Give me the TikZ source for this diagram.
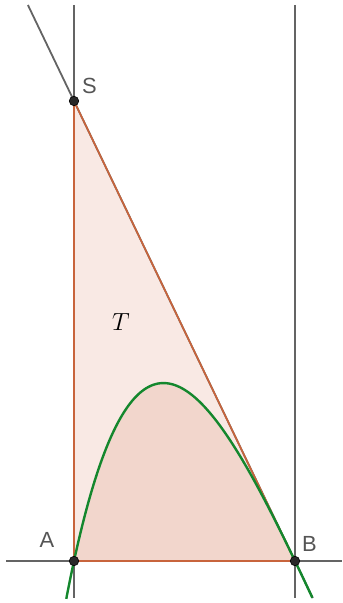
\documentclass[tikz,border=0pt]{standalone}
\usepackage{fontspec}
\newfontfamily\lblfont{Liberation Sans}
\definecolor{gline}{RGB}{100,100,100}
\definecolor{oline}{RGB}{200,100,60}
\definecolor{tfill}{RGB}{249,233,228}
\definecolor{cfill}{RGB}{242,214,204}
\definecolor{gcurve}{RGB}{20,135,45}
\definecolor{ptcol}{RGB}{40,40,40}
\definecolor{lblcol}{RGB}{85,85,85}
\tikzset{
  axisline/.style={draw=gline, line width=1.8bp},
  edgeline/.style={draw=oline, line width=1.7bp},
  curveline/.style={draw=gcurve, line width=2.4bp},
  ptdot/.style={circle, fill=ptcol, draw=black, line width=0.6bp, inner sep=0pt, minimum size=9.5bp},
  lbl/.style={text=lblcol, font=\lblfont\fontsize{22}{22}\selectfont, inner sep=0pt},
}
\begin{document}
\begin{tikzpicture}[x=1bp,y=-1bp]
\useasboundingbox (0,0) rectangle (342,603);
% coordinates
\coordinate (Sp) at (74,101);
\coordinate (Ap) at (74,561);
\coordinate (Bp) at (295,561);
\coordinate (vAtop) at (74,5);
\coordinate (vAbot) at (74,598);
\coordinate (vBtop) at (295,5);
\coordinate (vBbot) at (295,598);
\coordinate (hL) at (6,561);
\coordinate (hR) at (342,561);
\coordinate (tTop) at (27.9,5);
\coordinate (tBot) at (312.8,598);
% fills
\fill[tfill] (Sp) -- (Ap) -- (Bp) -- cycle;
\fill[cfill] plot[domain=0:1, samples=120] ({74+221*\x},{561-221*4.6*\x*(1-\x)*exp(-0.79*\x)}) -- cycle;
% gray lines
\draw[axisline] (vAtop) -- (vAbot);
\draw[axisline] (vBtop) -- (vBbot);
\draw[axisline] (hL) -- (hR);
\draw[axisline] (tTop) -- (tBot);
% triangle edges
\draw[edgeline] (Sp) -- (Ap);
\draw[edgeline] (Ap) -- (Bp);
\draw[edgeline] (Sp) -- (Bp);
% curve
\draw[curveline] plot[domain=-0.035:1.08, samples=160, smooth] ({74+221*\x},{561-221*4.6*\x*(1-\x)*exp(-0.79*\x)});
% points
\node[ptdot] (S) at (Sp) {};
\node[ptdot] (A) at (Ap) {};
\node[ptdot] (B) at (Bp) {};
% labels
\node[lbl] (Slbl) at (89.5,86) {S};
\node[lbl] (Albl) at (47,540) {A};
\node[lbl] (Blbl) at (309.5,544) {B};
\node[inner sep=0pt, font=\fontsize{31}{31}\selectfont] (Tlbl) at (121,322) {$T$};
\end{tikzpicture}
\end{document}
